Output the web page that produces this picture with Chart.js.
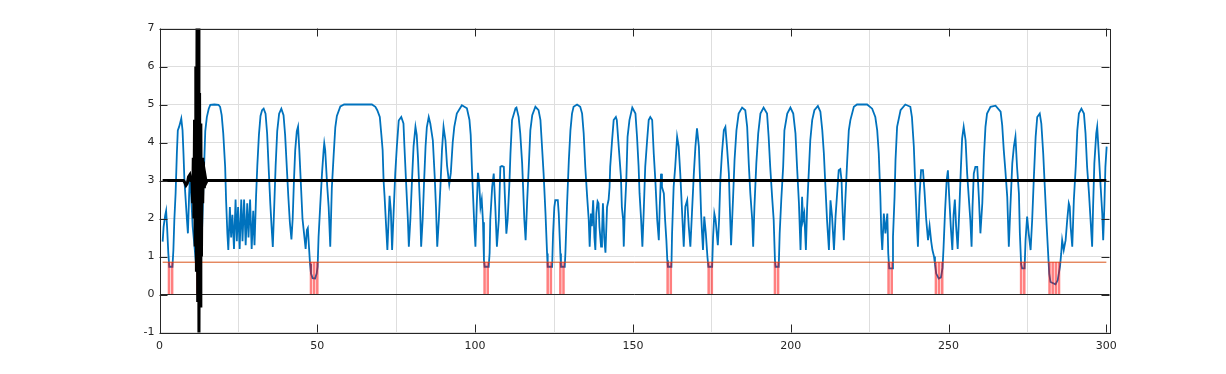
<!DOCTYPE html>
<html>
<head>
<meta charset="utf-8">
<script src="https://cdn.jsdelivr.net/npm/chart.js@4.4.1/dist/chart.umd.min.js"></script>
<style>
  html, body { margin: 0; padding: 0; background: #fff; }
  canvas { display: block; }
</style>
</head>
<body>
<canvas id="grafica" width="1226" height="374"></canvas>
<script>
// blue signal, [x, y] pairs
const blueSignal = [
  [1.0,1.39],[1.3,1.78],[1.8,2.08],[2.1,2.2],[2.4,1.78],[2.8,1.08],[3.1,0.73],[4.1,0.73],[4.4,1.17],[4.7,1.96],
  [5.1,2.66],[5.5,3.71],[5.8,4.32],[6.2,4.41],[6.5,4.5],[6.9,4.63],[7.3,4.32],[7.6,3.71],[7.9,3.0],[8.3,2.48],
  [8.7,1.96],[9.0,1.61],[9.4,2.66],[9.7,3.18],[10.0,2.66],[10.5,1.8],[11.1,1.26],[11.5,0.85],[11.9,0.73],[13.0,0.73],
  [13.4,1.5],[13.9,2.8],[14.5,4.3],[15.0,4.67],[15.6,4.89],[16.1,4.99],[17.4,5.0],[18.7,4.99],[19.2,4.94],[19.7,4.72],
  [20.2,4.24],[20.8,3.36],[21.1,2.48],[21.5,1.61],[21.8,1.17],
  [22.3,2.3],[22.7,1.5],[23.1,2.1],[23.6,1.2],[24.1,2.5],[24.5,1.4],[24.9,2.3],[25.4,1.2],[25.9,2.5],[26.3,1.4],
  [26.8,2.5],[27.3,1.3],[27.8,2.4],[28.2,1.5],[28.7,2.5],[29.2,1.2],[29.7,2.2],[30.1,1.3],[30.6,2.6],[31.0,3.4],
  [31.5,4.2],[32.0,4.7],[32.5,4.85],[33.0,4.89],[33.6,4.76],[34.1,4.24],[34.6,3.3],[35.1,2.4],[35.5,1.8],[35.9,1.25],
  [36.3,2.2],[36.8,3.4],[37.3,4.3],[37.9,4.76],[38.6,4.89],[39.3,4.72],[39.8,4.2],[40.3,3.4],[40.8,2.6],[41.3,1.9],
  [41.8,1.45],[42.2,2.0],[42.6,3.0],[43.0,3.8],[43.5,4.3],[43.9,4.42],[44.3,3.8],[44.8,2.9],[45.3,2.0],[45.8,1.6],
  [46.3,1.2],[46.7,1.7],[47.0,1.75],[47.4,1.2],[47.7,0.8],[48.0,0.55],[48.5,0.43],[49.3,0.42],[49.8,0.55],[50.1,0.73],
  [50.4,1.52],[50.9,2.3],[51.5,3.2],[52.0,3.8],[52.2,3.98],[52.5,3.8],[53.1,2.9],[53.6,2.3],[54.1,1.26],[54.6,2.8],
  [55.2,3.7],[55.7,4.4],[56.2,4.7],[57.3,4.95],[58.5,5.0],[67.3,5.0],[68.4,4.94],[69.0,4.85],[69.8,4.67],[70.3,4.2],
  [70.7,3.8],[71.0,3.0],[71.3,2.6],[71.8,1.8],[72.2,1.17],[72.6,2.0],[72.9,2.6],[73.3,2.2],[73.7,1.17],[74.2,2.2],
  [74.7,3.2],[75.2,3.89],[75.8,4.58],[76.6,4.67],[77.3,4.5],[77.6,3.9],[78.1,3.0],[78.7,1.96],[79.0,1.26],[79.5,2.0],
  [80.0,3.01],[80.5,3.9],[81.1,4.41],[81.5,4.2],[81.9,3.6],[82.3,2.8],[82.6,2.2],[82.9,1.26],[83.4,2.0],[83.8,2.9],
  [84.3,3.9],[84.7,4.4],[85.3,4.67],[85.8,4.5],[86.6,4.06],[87.2,3.1],[87.6,2.3],[88.0,1.26],[88.5,1.96],[89.0,2.83],
  [89.5,3.8],[90.0,4.41],[90.6,4.06],[91.1,3.4],[91.8,2.9],[92.3,3.2],[92.9,4.0],[93.4,4.41],[94.2,4.76],[95.8,4.98],
  [97.4,4.9],[98.2,4.6],[98.6,4.2],[99.0,3.3],[99.5,2.3],[99.8,1.7],[100.1,1.26],[100.5,2.3],[100.9,3.2],[101.3,2.9],
  [101.7,2.3],[102.1,2.5],[102.5,1.9],[102.8,0.9],[103.0,0.73],[104.3,0.73],
  [104.6,1.1],[104.8,1.96],[105.4,2.83],[105.9,3.18],[106.4,2.3],[106.9,1.26],[107.5,1.96],[108.0,3.36],[108.5,3.38],[109.1,3.36],
  [109.4,2.66],[109.9,1.6],[110.3,1.96],[110.9,3.0],[111.2,3.71],[111.7,4.59],[112.8,4.9],[113.1,4.92],[113.8,4.67],[114.3,4.24],
  [114.9,3.45],[115.2,2.83],[115.6,1.96],[116.0,1.43],[116.5,2.48],[117.0,3.36],[117.5,4.32],[118.1,4.72],[119.1,4.94],[120.1,4.85],
  [120.7,4.59],[121.2,3.89],[121.7,3.18],[122.3,2.13],[122.8,1.08],[123.0,0.73],[124.4,0.73],[124.7,1.6],[125.1,2.3],[125.4,2.48],
  [126.2,2.48],[126.5,2.13],[127.0,1.08],[127.2,0.73],[128.4,0.73],[128.6,1.08],[129.1,2.31],[129.7,3.54],[130.2,4.32],[130.7,4.76],
  [131.2,4.94],[132.3,5.0],[133.3,4.94],[133.9,4.76],[134.4,4.24],[134.9,3.36],[135.5,2.57],[136.0,1.96],[136.3,1.26],[136.7,2.13],
  [137.0,1.8],[137.4,2.48],[137.8,1.5],[138.1,1.17],[138.4,2.13],[138.8,2.45],[139.1,2.4],[139.4,1.78],[139.9,1.26],[140.2,1.6],
  [140.5,2.4],[140.9,1.5],[141.3,1.1],[141.8,2.3],[142.3,2.5],[142.6,2.83],[142.8,3.36],[143.4,4.06],[143.9,4.59],[144.6,4.67],
  [144.9,4.59],[145.5,3.89],[146.2,3.1],[146.5,2.3],[146.9,1.96],[147.1,1.26],[147.4,2.13],[147.9,3.0],[148.3,4.15],[148.9,4.59],
  [149.8,4.92],[150.8,4.76],[151.3,4.15],[151.8,3.36],[152.1,2.66],[152.6,1.96],[153.0,1.26],[153.4,2.13],[153.9,3.36],[154.5,4.06],
  [155.0,4.59],[155.5,4.67],[156.1,4.59],[156.6,3.71],[157.1,3.01],[157.7,1.96],[158.2,1.43],[158.5,2.31],[158.9,3.18],[159.2,2.83],
  [159.8,2.66],[160.2,1.96],[160.6,1.43],[160.9,0.9],[161.1,0.73],[162.2,0.73],[162.4,1.6],[162.9,2.83],[163.4,3.36],[164.0,4.15],
  [164.5,3.89],[165.0,3.18],[165.6,2.13],[166.1,1.26],[166.6,2.31],[167.2,2.48],[167.7,1.78],[168.2,1.26],[168.7,2.13],[169.3,3.18],
  [169.8,3.89],[170.3,4.37],[170.9,3.89],[171.2,3.18],[171.6,2.13],[171.9,1.61],[172.2,1.17],[172.6,2.05],[173.1,1.61],[173.6,1.0],
  [173.9,0.73],[175.1,0.73],[175.4,1.52],[175.8,2.13],[176.2,1.96],[176.9,1.3],[177.3,1.96],[177.7,3.01],[178.2,3.71],[178.8,4.32],
  [179.3,4.41],[179.8,3.89],[180.4,3.18],[180.7,2.31],[181.1,1.3],[181.7,2.48],[182.2,3.54],[182.8,4.32],[183.5,4.76],[184.6,4.92],
  [185.6,4.85],[186.2,4.41],[186.7,3.45],[187.2,2.66],[187.8,1.96],[188.1,1.26],[188.5,2.31],[189.1,3.45],[189.7,4.24],[190.4,4.76],
  [191.4,4.92],[192.5,4.76],[193.0,4.15],[193.5,3.36],[194.1,2.57],[194.6,1.96],[195.0,0.9],[195.2,0.73],[196.2,0.73],[196.5,1.61],
  [197.0,2.48],[197.6,3.36],[198.0,4.32],[198.9,4.76],[199.9,4.92],[200.8,4.76],[201.5,4.24],[202.0,3.36],[202.6,2.4],[203.1,1.17],
  [203.6,2.57],[203.9,1.96],[204.3,2.13],[204.8,1.17],[205.2,2.31],[205.7,3.18],[206.2,4.06],[206.8,4.59],[207.5,4.85],[208.6,4.96],
  [209.4,4.81],[210.0,4.32],[210.5,3.71],[211.0,2.83],[211.5,1.96],[212.1,1.17],[212.6,2.48],[213.1,2.05],[213.7,1.17],[214.2,2.05],
  [214.7,2.66],[215.2,3.27],[215.7,3.3],[216.1,3.01],[216.3,2.48],[216.8,1.43],[217.3,2.48],[217.9,3.54],[218.4,4.32],[218.9,4.59],
  [220.0,4.94],[221.0,5.0],[224.2,5.0],[225.8,4.89],[226.8,4.67],[227.4,4.32],[227.9,3.71],[228.4,2.57],[228.7,1.61],[229.0,1.17],
  [229.5,2.13],[230.0,1.61],[230.6,2.13],[230.9,1.08],[231.2,0.69],[232.1,0.69],[232.4,1.52],[232.9,2.57],[233.2,3.54],[233.7,4.41],
  [234.8,4.85],[236.3,5.0],[237.9,4.94],[238.4,4.67],[239.0,3.9],[239.5,2.8],[240.0,1.8],[240.3,1.26],[240.8,2.6],[241.3,3.27],
  [241.9,3.27],[242.4,2.7],[242.9,2.0],[243.5,1.43],[244.0,1.8],[244.5,1.4],[244.9,1.17],[245.4,1.0],[245.7,0.8],[246.1,0.55],
  [246.9,0.42],[247.6,0.45],[248.1,0.7],[248.4,1.2],[248.9,2.2],[249.4,3.0],[249.8,3.27],[250.2,2.6],[250.7,1.8],[251.2,1.17],
  [251.6,2.1],[252.0,2.5],[252.4,1.8],[252.9,1.2],[253.4,2.2],[253.9,3.3],[254.3,4.1],[254.8,4.41],[255.4,4.06],[255.9,3.18],
  [256.4,2.57],[256.9,1.96],[257.3,1.26],[257.6,2.31],[258.0,3.18],[258.5,3.36],[259.1,3.36],[259.6,2.57],[260.1,1.61],[260.7,2.4],
  [261.2,3.62],[261.7,4.41],[262.2,4.76],[263.3,4.94],[264.9,4.97],[266.5,4.81],[267.0,4.46],[267.5,3.8],[268.0,3.27],[268.6,2.57],
  [269.1,1.26],[269.6,2.31],[270.2,3.45],[270.7,3.89],[271.2,4.15],[271.7,3.36],[272.3,2.66],[272.6,1.61],[273.0,0.8],[273.3,0.69],
  [274.1,0.69],[274.4,1.43],[274.9,2.05],[275.4,1.61],[276.0,1.17],[276.5,1.96],[277.0,3.01],[277.6,4.15],[278.1,4.67],[278.9,4.76],
  [279.4,4.5],[280.0,3.71],[280.5,2.83],[281.0,1.96],[281.5,1.17],[281.9,0.55],[282.3,0.33],[283.9,0.27],[284.6,0.38],[285.3,0.73],
  [285.7,1.08],[286.0,1.43],[286.5,1.17],[287.1,1.43],[287.6,1.96],[288.1,2.4],[288.4,2.31],[288.7,1.78],[289.2,1.26],[289.7,2.48],
  [290.3,3.36],[290.8,4.32],[291.3,4.76],[292.1,4.89],[292.9,4.76],[293.4,4.24],[293.9,3.36],[294.5,2.66],[295.0,1.96],[295.5,1.26],
  [295.8,2.31],[296.2,3.45],[296.8,4.24],[297.1,4.41],[297.6,3.71],[298.2,2.83],[298.7,2.13],[299.0,1.43],[299.4,2.4],[299.7,3.36],
  [300.1,3.89]
];

// black reference line with the spike near the start
const blackSignal = [
  [1,3],[7.6,3],[8.0,2.95],[8.4,2.87],[8.8,2.92],[9.2,3.1],[9.6,3.15],[9.9,3.0],[10.3,3.0],[10.5,2.4],
  [10.7,3.6],[10.9,2.0],[11.1,4.6],[11.3,1.3],[11.5,6.0],[11.7,0.6],[11.9,7.5],[12.1,-0.2],[12.3,7.5],[12.5,-1.5],
  [12.7,5.3],[12.9,-0.3],[13.1,4.5],[13.3,1.0],[13.5,3.6],[13.7,2.4],[13.9,3.5],[14.2,2.8],[14.5,3.1],[14.8,2.95],
  [15.1,3.0],[300,3]
];

const threshold = 0.85;
const thresholdX = [1, 300];
// samples where the blue signal is under the threshold
const belowX = [3, 4, 12, 13, 48, 49, 50, 103, 104, 123, 124, 127, 128, 161, 162, 174, 175,
                195, 196, 231, 232, 246, 247, 248, 273, 274, 282, 283, 284, 285];

const xTicks = [0, 50, 100, 150, 200, 250, 300];
const yTicks = [-1, 0, 1, 2, 3, 4, 5, 6, 7];

const ejeColor = '#262626';

// MATLAB-like box with inward ticks on all four sides
const cajaPlugin = {
  id: 'caja',
  afterDraw(chart) {
    const { ctx, chartArea: a, scales: { x, y } } = chart;
    const largo = 8;
    ctx.save();
    ctx.strokeStyle = ejeColor;
    ctx.lineWidth = 1;
    ctx.beginPath();
    xTicks.forEach(v => {
      const px = Math.round(x.getPixelForValue(v)) + 0.5;
      ctx.moveTo(px, a.bottom); ctx.lineTo(px, a.bottom - largo);
      ctx.moveTo(px, a.top); ctx.lineTo(px, a.top + largo);
    });
    yTicks.forEach(v => {
      const py = Math.round(y.getPixelForValue(v)) + 0.5;
      ctx.moveTo(a.left, py); ctx.lineTo(a.left + largo, py);
      ctx.moveTo(a.right, py); ctx.lineTo(a.right - largo, py);
    });
    ctx.stroke();
    ctx.strokeRect(Math.round(a.left) + 0.5, Math.round(a.top) + 0.5,
                   Math.round(a.right - a.left), Math.round(a.bottom - a.top));
    ctx.restore();
  }
};

const ctx = document.getElementById('grafica').getContext('2d');
new Chart(ctx, {
  data: {
    datasets: [
      {
        type: 'line',
        data: blueSignal.map(p => ({ x: p[0], y: p[1] })),
        borderColor: '#0072BD',
        borderWidth: 1.8,
        pointRadius: 0,
        tension: 0,
        order: 5,
        clip: 0
      },
      {
        type: 'line',
        data: thresholdX.map(v => ({ x: v, y: threshold })),
        borderColor: '#D95319',
        borderWidth: 1,
        pointRadius: 0,
        order: 4,
        clip: 0
      },
      {
        type: 'bar',
        data: belowX.map(v => ({ x: v, y: threshold })),
        backgroundColor: 'rgba(255,0,0,0.5)',
        borderWidth: 0,
        barPercentage: 0.8,
        categoryPercentage: 1,
        order: 3
      },
      {
        type: 'line',
        data: blackSignal.map(p => ({ x: p[0], y: p[1] })),
        borderColor: '#000000',
        borderWidth: 3,
        pointRadius: 0,
        tension: 0,
        order: 1,
        clip: 0
      }
    ]
  },
  options: {
    responsive: false,
    devicePixelRatio: 1,
    animation: false,
    layout: { padding: { left: 0, right: 116.5, top: 28.5, bottom: 0 } },
    plugins: { legend: { display: false }, tooltip: { enabled: false } },
    scales: {
      x: {
        type: 'linear',
        min: 0,
        max: 301,
        offset: false,
        afterFit: s => { s.height = 41.5; },
        afterBuildTicks: s => { s.ticks = xTicks.map(v => ({ value: v })); },
        ticks: { color: ejeColor, padding: 7, maxRotation: 0, font: { family: 'DejaVu Sans', size: 11 } },
        grid: { color: '#dedede', drawTicks: false },
        border: { display: false }
      },
      y: {
        type: 'linear',
        min: -1,
        max: 7,
        afterFit: s => { s.width = 159.5; },
        afterBuildTicks: s => { s.ticks = yTicks.map(v => ({ value: v })); },
        ticks: { color: ejeColor, padding: 5, font: { family: 'DejaVu Sans', size: 11 } },
        grid: {
          color: c => (c.tick && c.tick.value === 0 ? ejeColor : '#dedede'),
          drawTicks: false
        },
        border: { display: false }
      }
    }
  },
  plugins: [cajaPlugin]
});
</script>
</body>
</html>
